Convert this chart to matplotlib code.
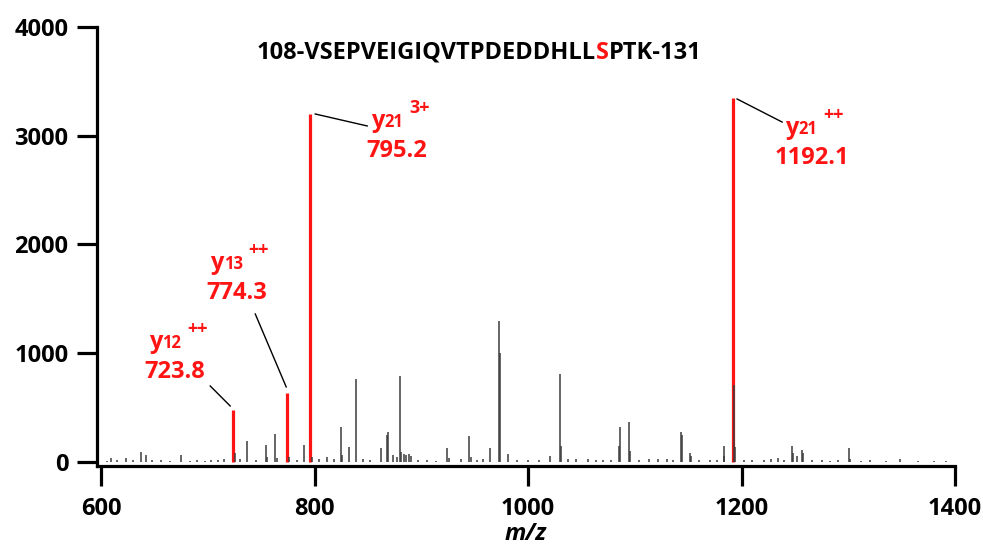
import matplotlib
matplotlib.use("Agg")
import matplotlib.pyplot as plt

# ---------------- data ----------------
# background (grey) fragment peaks: m/z and intensity
gray_mz = [605, 609, 615, 623, 630, 637.5, 642, 648, 656, 664, 675, 683, 690, 697, 703, 709, 715,
           725.5, 730, 736.8, 745, 754, 755.5, 763, 765, 776, 783, 790, 797, 804, 811.7, 818,
           824.5, 826, 832.6, 838.6, 845, 852, 862, 867.6, 868.5, 873, 877, 880, 881, 884, 886,
           888, 890, 897, 905, 914, 924.4, 926, 937, 944.7, 946, 952, 958, 964, 972.8, 973.3,
           981, 990, 1000, 1010, 1020.6, 1029.6, 1030.4, 1037, 1045, 1056, 1064, 1070, 1078,
           1085, 1085.8, 1094.6, 1095.4, 1104, 1113, 1122, 1130, 1136, 1143, 1144, 1151.8,
           1152.6, 1160, 1170, 1177, 1183.3, 1184, 1192.5, 1193.5, 1202, 1210, 1221, 1228, 1234,
           1240, 1247.6, 1248.4, 1252, 1256.7, 1257.5, 1266, 1275, 1283, 1290, 1300.7, 1302,
           1312, 1320, 1335, 1348.5, 1365, 1380, 1392]
gray_int = [12, 40, 15, 40, 18, 95, 60, 14, 15, 10, 64, 12, 15, 10, 20, 14, 30,
            80, 25, 193, 18, 156, 45, 254, 40, 50, 20, 159, 45, 25, 45, 30,
            322, 60, 138, 763, 30, 22, 132, 248, 276, 60, 45, 788, 90, 70, 65,
            70, 55, 15, 20, 12, 126, 40, 30, 239, 50, 18, 30, 126, 1300, 1005,
            70, 18, 15, 20, 55, 809, 150, 28, 25, 30, 18, 22, 15,
            150, 325, 365, 100, 20, 25, 30, 28, 18, 279, 250, 80,
            55, 15, 20, 18, 147, 55, 708, 140, 20, 15, 18, 25, 35,
            20, 150, 80, 55, 110, 80, 15, 20, 12, 15, 132, 30,
            12, 15, 10, 25, 10, 8, 6]

# annotated (red) fragment ions
ion_mz = [723.8, 774.3, 795.2, 1192.1]
ion_int = [478, 634, 3200, 3347]
ion_sub = ["12", "13", "21", "21"]
ion_charge = ["++", "++", "3+", "++"]
ion_label = ["723.8", "774.3", "795.2", "1192.1"]

peptide_pre = "108-VSEPVEIGIQVTPDEDDHLL"
peptide_site = "S"
peptide_post = "PTK-131"

x_ticks = [600, 800, 1000, 1200, 1400]
y_ticks = [0, 1000, 2000, 3000, 4000]

# ---------------- style ----------------
RED = "#ff1414"
GREY = "#3c3c3c"
FONT = "Open Sans"
plt.rcParams["font.family"] = [FONT, "DejaVu Sans"]
FS = 17

fig = plt.figure(figsize=(9.83, 5.48), dpi=100)
ax = fig.add_axes([97 / 983, 1 - 466 / 548, (955 - 97) / 983, (466 - 27) / 548])

ax.vlines(ion_mz, 0, ion_int, color=RED, lw=2.3, zorder=2)
ax.vlines(gray_mz, 0, gray_int, color=GREY, lw=1.1, zorder=3)

ax.set_xlim(596, 1400)
ax.set_ylim(-37, 4000)
ax.set_xticks(x_ticks)
ax.set_yticks(y_ticks)
for s in ["top", "right"]:
    ax.spines[s].set_visible(False)
for s in ["left", "bottom"]:
    ax.spines[s].set_linewidth(2.3)
ax.tick_params(axis="both", direction="out", length=14.5, width=2.3, labelsize=FS)
ax.tick_params(axis="x", pad=8)
ax.tick_params(axis="y", pad=6)
for lab in ax.get_xticklabels() + ax.get_yticklabels():
    lab.set_fontweight("bold")
ax.set_xlabel("m/z", fontsize=FS, fontweight="bold", fontstyle="italic", labelpad=0.5)

# peptide title with red phospho-site
t1 = fig.text(257 / 983, 1 - 53 / 548, peptide_pre, fontsize=FS, fontweight="bold",
              ha="left", va="center")
t2 = ax.annotate(peptide_site, xy=(1, 0), xycoords=t1, va="bottom", ha="left",
                 fontsize=FS, fontweight="bold", color=RED)
t3 = ax.annotate(peptide_post, xy=(1, 0), xycoords=t2, va="bottom", ha="left",
                 fontsize=FS, fontweight="bold")

# label placements (data coords of number centre) and leader lines
label_pos = [(669.3, 828), (726.5, 1554), (877.3, 2860), (1266, 2795)]
label_dx = [3, 3, 3, 7.5]
leaders = [((720.8, 515), (702.1, 699)),
           ((773.3, 690), (744.3, 1361)),
           ((800.5, 3200), (849.2, 3090)),
           ((1195.8, 3338), (1238, 3126))]

for (lx, ly), dx, sub, chg, lab, (p0, p1) in zip(label_pos, label_dx, ion_sub, ion_charge,
                                                 ion_label, leaders):
    tn = ax.text(lx, ly, lab, fontsize=FS, fontweight="bold", color=RED,
                 ha="center", va="center")
    ty = ax.annotate("y", xy=(0, 1), xycoords=tn, xytext=(dx, 4), textcoords="offset points",
                     fontsize=FS, fontweight="bold", color=RED, ha="left", va="bottom")
    ts = ax.annotate(sub, xy=(1, 0), xycoords=ty, xytext=(0, 1.5), textcoords="offset points",
                     fontsize=12, fontweight="bold", color=RED, ha="left", va="bottom")
    ax.annotate(chg, xy=(1, 1), xycoords=ts, xytext=(4, -2.5), textcoords="offset points",
                fontsize=13, fontweight="bold", color=RED, ha="left", va="bottom")
    ax.plot([p0[0], p1[0]], [p0[1], p1[1]], color="black", lw=1.0, zorder=4)

fig.savefig("out.png", dpi=100)
